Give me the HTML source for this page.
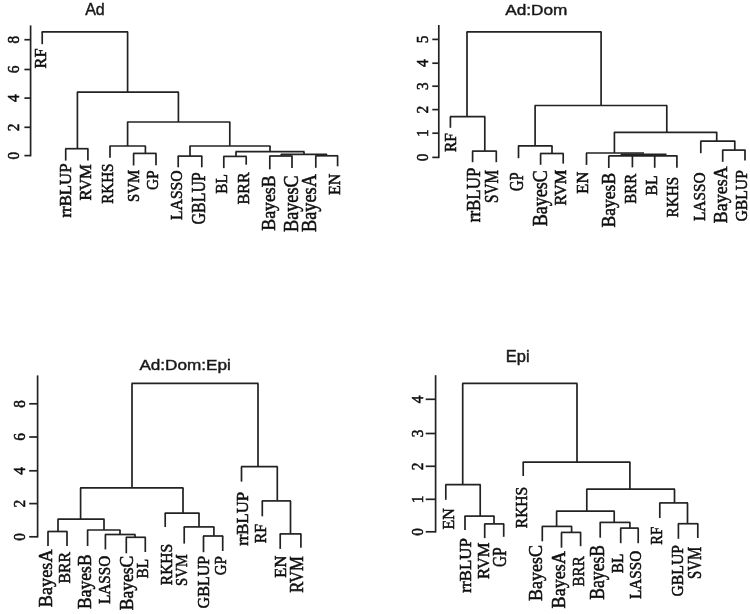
<!DOCTYPE html>
<html><head><meta charset="utf-8"><title>Dendrograms</title>
<style>
html,body{margin:0;padding:0;background:#fff;}
svg{display:block;}
svg text{font-family:"Liberation Serif", "DejaVu Serif", serif;fill:#111;stroke:#111;stroke-width:0.55px;}
svg line{stroke:#222;stroke-linecap:butt;}
svg text.ttl{font-family:"Liberation Sans", "DejaVu Sans", sans-serif;fill:#1a1a1a;stroke:#1a1a1a;stroke-width:0.45px;}
</style></head>
<body>
<svg width="750" height="614" viewBox="0 0 750 614">
<rect width="750" height="614" fill="#ffffff"/>
<defs><filter id="soft" x="0" y="0" width="750" height="614" filterUnits="userSpaceOnUse"><feGaussianBlur stdDeviation="0.55"/></filter></defs>
<g filter="url(#soft)">
<text x="85.2" y="14.7" class="ttl" font-size="16.8" textLength="19.6" lengthAdjust="spacingAndGlyphs" fill="#1a1a1a">Ad</text>
<line x1="30.6" y1="25.4" x2="30.6" y2="156.3" stroke-width="1.7"/>
<line x1="24.4" y1="155.6" x2="30.6" y2="155.6" stroke-width="1.7"/>
<text transform="translate(18.8,155.6) rotate(-90) scale(0.88,1)" text-anchor="middle" font-size="17.5">0</text>
<line x1="24.4" y1="127.3" x2="30.6" y2="127.3" stroke-width="1.7"/>
<text transform="translate(18.8,127.3) rotate(-90) scale(0.88,1)" text-anchor="middle" font-size="17.5">2</text>
<line x1="24.4" y1="98.1" x2="30.6" y2="98.1" stroke-width="1.7"/>
<text transform="translate(18.8,98.1) rotate(-90) scale(0.88,1)" text-anchor="middle" font-size="17.5">4</text>
<line x1="24.4" y1="69.5" x2="30.6" y2="69.5" stroke-width="1.7"/>
<text transform="translate(18.8,69.5) rotate(-90) scale(0.88,1)" text-anchor="middle" font-size="17.5">6</text>
<line x1="24.4" y1="39.7" x2="30.6" y2="39.7" stroke-width="1.7"/>
<text transform="translate(18.8,39.7) rotate(-90) scale(0.88,1)" text-anchor="middle" font-size="17.5">8</text>
<line x1="41.7" y1="31.8" x2="128.1" y2="31.8" stroke-width="1.7"/>
<line x1="42.2" y1="31.8" x2="42.2" y2="44.2" stroke-width="1.7"/>
<line x1="127.6" y1="31.8" x2="127.6" y2="92.2" stroke-width="1.7"/>
<line x1="76.9" y1="92.2" x2="178.9" y2="92.2" stroke-width="1.7"/>
<line x1="77.4" y1="92.2" x2="77.4" y2="148.7" stroke-width="1.7"/>
<line x1="178.4" y1="92.2" x2="178.4" y2="122.0" stroke-width="1.7"/>
<line x1="65.2" y1="148.7" x2="88.4" y2="148.7" stroke-width="1.7"/>
<line x1="65.7" y1="148.7" x2="65.7" y2="160.6" stroke-width="1.7"/>
<line x1="87.9" y1="148.7" x2="87.9" y2="160.6" stroke-width="1.7"/>
<line x1="127.1" y1="122.0" x2="230.3" y2="122.0" stroke-width="1.7"/>
<line x1="127.6" y1="122.0" x2="127.6" y2="146.0" stroke-width="1.7"/>
<line x1="229.8" y1="122.0" x2="229.8" y2="146.0" stroke-width="1.7"/>
<line x1="109.5" y1="146.0" x2="145.9" y2="146.0" stroke-width="1.7"/>
<line x1="110.0" y1="146.0" x2="110.0" y2="157.8" stroke-width="1.7"/>
<line x1="145.4" y1="146.0" x2="145.4" y2="153.4" stroke-width="1.7"/>
<line x1="133.1" y1="153.4" x2="156.5" y2="153.4" stroke-width="1.7"/>
<line x1="133.6" y1="153.4" x2="133.6" y2="165.5" stroke-width="1.7"/>
<line x1="156.0" y1="153.4" x2="156.0" y2="165.3" stroke-width="1.7"/>
<line x1="189.5" y1="146.0" x2="270.5" y2="146.0" stroke-width="1.7"/>
<line x1="190.0" y1="146.0" x2="190.0" y2="156.1" stroke-width="1.7"/>
<line x1="270.0" y1="146.0" x2="270.0" y2="151.7" stroke-width="1.7"/>
<line x1="177.7" y1="156.1" x2="202.3" y2="156.1" stroke-width="1.7"/>
<line x1="178.2" y1="156.1" x2="178.2" y2="167.3" stroke-width="1.7"/>
<line x1="201.8" y1="156.1" x2="201.8" y2="167.3" stroke-width="1.7"/>
<line x1="235.5" y1="151.7" x2="304.5" y2="151.7" stroke-width="1.7"/>
<line x1="236.0" y1="151.7" x2="236.0" y2="156.4" stroke-width="1.7"/>
<line x1="304.0" y1="151.7" x2="304.0" y2="154.3" stroke-width="1.7"/>
<line x1="223.3" y1="156.4" x2="246.7" y2="156.4" stroke-width="1.7"/>
<line x1="223.8" y1="156.4" x2="223.8" y2="168.1" stroke-width="1.7"/>
<line x1="246.2" y1="156.4" x2="246.2" y2="164.7" stroke-width="1.7"/>
<line x1="280.8" y1="154.4" x2="327.0" y2="154.4" stroke-width="1.9"/>
<line x1="281.3" y1="154.4" x2="281.3" y2="156.0" stroke-width="1.9"/>
<line x1="326.5" y1="154.4" x2="326.5" y2="155.5" stroke-width="1.9"/>
<line x1="269.3" y1="156.0" x2="292.5" y2="156.0" stroke-width="1.7"/>
<line x1="269.8" y1="156.0" x2="269.8" y2="169.3" stroke-width="1.7"/>
<line x1="292.0" y1="156.0" x2="292.0" y2="168.0" stroke-width="1.7"/>
<line x1="315.3" y1="155.8" x2="338.1" y2="155.8" stroke-width="1.7"/>
<line x1="315.8" y1="155.8" x2="315.8" y2="167.8" stroke-width="1.7"/>
<line x1="337.6" y1="155.8" x2="337.6" y2="166.3" stroke-width="1.7"/>
<text transform="translate(46.35,48.40) rotate(-90)" text-anchor="end" font-size="17.07" textLength="20.0" lengthAdjust="spacingAndGlyphs">RF</text>
<text transform="translate(71.45,163.50) rotate(-90)" text-anchor="end" font-size="17.52" textLength="54.0" lengthAdjust="spacingAndGlyphs">rrBLUP</text>
<text transform="translate(90.85,164.20) rotate(-90)" text-anchor="end" font-size="16.62" textLength="36.4" lengthAdjust="spacingAndGlyphs">RVM</text>
<text transform="translate(113.45,163.50) rotate(-90)" text-anchor="end" font-size="16.62" textLength="40.2" lengthAdjust="spacingAndGlyphs">RKHS</text>
<text transform="translate(138.55,169.80) rotate(-90)" text-anchor="end" font-size="16.62" textLength="32.1" lengthAdjust="spacingAndGlyphs">SVM</text>
<text transform="translate(158.35,170.40) rotate(-90)" text-anchor="end" font-size="17.52" textLength="19.6" lengthAdjust="spacingAndGlyphs">GP</text>
<text transform="translate(182.15,170.40) rotate(-90)" text-anchor="end" font-size="17.52" textLength="49.6" lengthAdjust="spacingAndGlyphs">LASSO</text>
<text transform="translate(204.75,172.30) rotate(-90)" text-anchor="end" font-size="18.58" textLength="52.1" lengthAdjust="spacingAndGlyphs">GBLUP</text>
<text transform="translate(226.65,174.20) rotate(-90)" text-anchor="end" font-size="17.52" textLength="19.5" lengthAdjust="spacingAndGlyphs">BL</text>
<text transform="translate(249.35,172.30) rotate(-90)" text-anchor="end" font-size="17.22" textLength="32.1" lengthAdjust="spacingAndGlyphs">BRR</text>
<text transform="translate(274.65,175.40) rotate(-90)" text-anchor="end" font-size="19.49" textLength="55.3" lengthAdjust="spacingAndGlyphs">BayesB</text>
<text transform="translate(297.85,175.40) rotate(-90)" text-anchor="end" font-size="20.39" textLength="56.5" lengthAdjust="spacingAndGlyphs">BayesC</text>
<text transform="translate(316.05,174.20) rotate(-90)" text-anchor="end" font-size="20.39" textLength="57.7" lengthAdjust="spacingAndGlyphs">BayesA</text>
<text transform="translate(340.35,173.70) rotate(-90)" text-anchor="end" font-size="17.67" textLength="21.4" lengthAdjust="spacingAndGlyphs">EN</text>
<text x="505.2" y="14.9" class="ttl" font-size="15.5" textLength="62.2" lengthAdjust="spacingAndGlyphs" fill="#1a1a1a">Ad:Dom</text>
<line x1="438.8" y1="25.0" x2="438.8" y2="158.1" stroke-width="1.7"/>
<line x1="432.3" y1="157.4" x2="438.8" y2="157.4" stroke-width="1.7"/>
<text transform="translate(428.2,157.4) rotate(-90) scale(0.88,1)" text-anchor="middle" font-size="17.5">0</text>
<line x1="432.3" y1="133.2" x2="438.8" y2="133.2" stroke-width="1.7"/>
<text transform="translate(428.2,133.2) rotate(-90) scale(0.88,1)" text-anchor="middle" font-size="17.5">1</text>
<line x1="432.3" y1="109.6" x2="438.8" y2="109.6" stroke-width="1.7"/>
<text transform="translate(428.2,109.6) rotate(-90) scale(0.88,1)" text-anchor="middle" font-size="17.5">2</text>
<line x1="432.3" y1="86.2" x2="438.8" y2="86.2" stroke-width="1.7"/>
<text transform="translate(428.2,86.2) rotate(-90) scale(0.88,1)" text-anchor="middle" font-size="17.5">3</text>
<line x1="432.3" y1="63.2" x2="438.8" y2="63.2" stroke-width="1.7"/>
<text transform="translate(428.2,63.2) rotate(-90) scale(0.88,1)" text-anchor="middle" font-size="17.5">4</text>
<line x1="432.3" y1="39.4" x2="438.8" y2="39.4" stroke-width="1.7"/>
<text transform="translate(428.2,39.4) rotate(-90) scale(0.88,1)" text-anchor="middle" font-size="17.5">5</text>
<line x1="466.5" y1="31.8" x2="601.6" y2="31.8" stroke-width="1.7"/>
<line x1="467.0" y1="31.8" x2="467.0" y2="116.7" stroke-width="1.7"/>
<line x1="601.1" y1="31.8" x2="601.1" y2="105.5" stroke-width="1.7"/>
<line x1="449.9" y1="116.7" x2="485.3" y2="116.7" stroke-width="1.7"/>
<line x1="450.4" y1="116.7" x2="450.4" y2="127.8" stroke-width="1.7"/>
<line x1="484.8" y1="116.7" x2="484.8" y2="151.1" stroke-width="1.7"/>
<line x1="472.1" y1="151.1" x2="496.8" y2="151.1" stroke-width="1.7"/>
<line x1="472.6" y1="151.1" x2="472.6" y2="162.2" stroke-width="1.7"/>
<line x1="496.3" y1="151.1" x2="496.3" y2="162.2" stroke-width="1.7"/>
<line x1="534.6" y1="105.5" x2="667.3" y2="105.5" stroke-width="1.7"/>
<line x1="535.1" y1="105.5" x2="535.1" y2="145.9" stroke-width="1.7"/>
<line x1="666.8" y1="105.5" x2="666.8" y2="132.3" stroke-width="1.7"/>
<line x1="518.0" y1="145.9" x2="552.5" y2="145.9" stroke-width="1.7"/>
<line x1="518.5" y1="145.9" x2="518.5" y2="158.2" stroke-width="1.7"/>
<line x1="552.0" y1="145.9" x2="552.0" y2="153.5" stroke-width="1.7"/>
<line x1="540.1" y1="153.5" x2="563.7" y2="153.5" stroke-width="1.7"/>
<line x1="540.6" y1="153.5" x2="540.6" y2="164.8" stroke-width="1.7"/>
<line x1="563.2" y1="153.5" x2="563.2" y2="163.6" stroke-width="1.7"/>
<line x1="613.9" y1="132.3" x2="717.2" y2="132.3" stroke-width="1.7"/>
<line x1="614.4" y1="132.3" x2="614.4" y2="153.0" stroke-width="1.7"/>
<line x1="716.7" y1="132.3" x2="716.7" y2="141.2" stroke-width="1.7"/>
<line x1="586.0" y1="153.0" x2="644.0" y2="153.0" stroke-width="1.7"/>
<line x1="586.5" y1="153.0" x2="586.5" y2="164.9" stroke-width="1.7"/>
<line x1="620.6" y1="154.4" x2="666.5" y2="154.4" stroke-width="1.9"/>
<line x1="608.6" y1="155.8" x2="677.4" y2="155.8" stroke-width="1.7"/>
<line x1="608.8" y1="155.8" x2="608.8" y2="168.0" stroke-width="1.7"/>
<line x1="632.4" y1="155.8" x2="632.4" y2="167.4" stroke-width="1.7"/>
<line x1="654.7" y1="155.8" x2="654.7" y2="167.8" stroke-width="1.7"/>
<line x1="676.9" y1="155.8" x2="676.9" y2="167.8" stroke-width="1.7"/>
<line x1="700.3" y1="141.2" x2="735.3" y2="141.2" stroke-width="1.7"/>
<line x1="700.8" y1="141.2" x2="700.8" y2="153.2" stroke-width="1.7"/>
<line x1="734.8" y1="141.2" x2="734.8" y2="150.1" stroke-width="1.7"/>
<line x1="722.2" y1="150.1" x2="745.5" y2="150.1" stroke-width="1.7"/>
<line x1="722.7" y1="150.1" x2="722.7" y2="161.8" stroke-width="1.7"/>
<line x1="745.0" y1="150.1" x2="745.0" y2="160.4" stroke-width="1.7"/>
<text transform="translate(455.65,133.10) rotate(-90)" text-anchor="end" font-size="17.67" textLength="18.9" lengthAdjust="spacingAndGlyphs">RF</text>
<text transform="translate(479.85,167.70) rotate(-90)" text-anchor="end" font-size="18.43" textLength="54.5" lengthAdjust="spacingAndGlyphs">rrBLUP</text>
<text transform="translate(497.95,170.10) rotate(-90)" text-anchor="end" font-size="19.18" textLength="32.9" lengthAdjust="spacingAndGlyphs">SVM</text>
<text transform="translate(522.75,172.50) rotate(-90)" text-anchor="end" font-size="17.98" textLength="18.5" lengthAdjust="spacingAndGlyphs">GP</text>
<text transform="translate(546.75,170.10) rotate(-90)" text-anchor="end" font-size="20.39" textLength="56.1" lengthAdjust="spacingAndGlyphs">BayesC</text>
<text transform="translate(565.85,169.80) rotate(-90)" text-anchor="end" font-size="16.62" textLength="35.8" lengthAdjust="spacingAndGlyphs">RVM</text>
<text transform="translate(587.75,171.70) rotate(-90)" text-anchor="end" font-size="16.62" textLength="22.0" lengthAdjust="spacingAndGlyphs">EN</text>
<text transform="translate(615.35,172.90) rotate(-90)" text-anchor="end" font-size="19.49" textLength="54.6" lengthAdjust="spacingAndGlyphs">BayesB</text>
<text transform="translate(636.05,173.60) rotate(-90)" text-anchor="end" font-size="16.62" textLength="30.1" lengthAdjust="spacingAndGlyphs">BRR</text>
<text transform="translate(657.05,175.40) rotate(-90)" text-anchor="end" font-size="17.52" textLength="20.2" lengthAdjust="spacingAndGlyphs">BL</text>
<text transform="translate(677.75,176.70) rotate(-90)" text-anchor="end" font-size="16.62" textLength="40.8" lengthAdjust="spacingAndGlyphs">RKHS</text>
<text transform="translate(704.95,172.50) rotate(-90)" text-anchor="end" font-size="16.62" textLength="48.5" lengthAdjust="spacingAndGlyphs">LASSO</text>
<text transform="translate(727.35,166.30) rotate(-90)" text-anchor="end" font-size="19.64" textLength="56.9" lengthAdjust="spacingAndGlyphs">BayesA</text>
<text transform="translate(747.15,170.10) rotate(-90)" text-anchor="end" font-size="16.77" textLength="51.5" lengthAdjust="spacingAndGlyphs">GBLUP</text>
<text x="139.4" y="369.8" class="ttl" font-size="15.5" textLength="91.4" lengthAdjust="spacingAndGlyphs" fill="#1a1a1a">Ad:Dom:Epi</text>
<line x1="37.6" y1="375.4" x2="37.6" y2="537.5" stroke-width="1.7"/>
<line x1="29.2" y1="536.8" x2="37.6" y2="536.8" stroke-width="1.7"/>
<text transform="translate(24.8,536.8) rotate(-90) scale(0.88,1)" text-anchor="middle" font-size="17.5">0</text>
<line x1="29.2" y1="503.6" x2="37.6" y2="503.6" stroke-width="1.7"/>
<text transform="translate(24.8,503.6) rotate(-90) scale(0.88,1)" text-anchor="middle" font-size="17.5">2</text>
<line x1="29.2" y1="470.8" x2="37.6" y2="470.8" stroke-width="1.7"/>
<text transform="translate(24.8,470.8) rotate(-90) scale(0.88,1)" text-anchor="middle" font-size="17.5">4</text>
<line x1="29.2" y1="437.0" x2="37.6" y2="437.0" stroke-width="1.7"/>
<text transform="translate(24.8,437.0) rotate(-90) scale(0.88,1)" text-anchor="middle" font-size="17.5">6</text>
<line x1="29.2" y1="403.8" x2="37.6" y2="403.8" stroke-width="1.7"/>
<text transform="translate(24.8,403.8) rotate(-90) scale(0.88,1)" text-anchor="middle" font-size="17.5">8</text>
<line x1="131.5" y1="383.4" x2="258.5" y2="383.4" stroke-width="1.7"/>
<line x1="132.0" y1="383.4" x2="132.0" y2="487.9" stroke-width="1.7"/>
<line x1="258.0" y1="383.4" x2="258.0" y2="466.7" stroke-width="1.7"/>
<line x1="80.1" y1="487.9" x2="183.5" y2="487.9" stroke-width="1.7"/>
<line x1="80.6" y1="487.9" x2="80.6" y2="519.2" stroke-width="1.7"/>
<line x1="183.0" y1="487.9" x2="183.0" y2="513.1" stroke-width="1.7"/>
<line x1="57.5" y1="519.2" x2="104.5" y2="519.2" stroke-width="1.7"/>
<line x1="58.0" y1="519.2" x2="58.0" y2="531.5" stroke-width="1.7"/>
<line x1="104.0" y1="519.2" x2="104.0" y2="530.0" stroke-width="1.7"/>
<line x1="47.5" y1="531.5" x2="67.5" y2="531.5" stroke-width="1.7"/>
<line x1="48.0" y1="531.5" x2="48.0" y2="546.0" stroke-width="1.7"/>
<line x1="67.0" y1="531.5" x2="67.0" y2="546.0" stroke-width="1.7"/>
<line x1="87.1" y1="530.0" x2="120.5" y2="530.0" stroke-width="1.7"/>
<line x1="87.6" y1="530.0" x2="87.6" y2="546.0" stroke-width="1.7"/>
<line x1="120.0" y1="530.0" x2="120.0" y2="534.5" stroke-width="1.7"/>
<line x1="104.9" y1="534.5" x2="135.5" y2="534.5" stroke-width="1.7"/>
<line x1="105.4" y1="534.5" x2="105.4" y2="549.4" stroke-width="1.7"/>
<line x1="135.0" y1="534.5" x2="135.0" y2="537.3" stroke-width="1.7"/>
<line x1="125.8" y1="537.3" x2="145.8" y2="537.3" stroke-width="1.7"/>
<line x1="126.3" y1="537.3" x2="126.3" y2="553.3" stroke-width="1.7"/>
<line x1="145.3" y1="537.3" x2="145.3" y2="552.0" stroke-width="1.7"/>
<line x1="164.7" y1="513.1" x2="199.5" y2="513.1" stroke-width="1.7"/>
<line x1="165.2" y1="513.1" x2="165.2" y2="527.0" stroke-width="1.7"/>
<line x1="199.0" y1="513.1" x2="199.0" y2="526.9" stroke-width="1.7"/>
<line x1="183.7" y1="526.9" x2="214.4" y2="526.9" stroke-width="1.7"/>
<line x1="184.2" y1="526.9" x2="184.2" y2="543.6" stroke-width="1.7"/>
<line x1="213.9" y1="526.9" x2="213.9" y2="536.0" stroke-width="1.7"/>
<line x1="203.0" y1="536.0" x2="223.2" y2="536.0" stroke-width="1.7"/>
<line x1="203.5" y1="536.0" x2="203.5" y2="552.2" stroke-width="1.7"/>
<line x1="222.7" y1="536.0" x2="222.7" y2="551.0" stroke-width="1.7"/>
<line x1="241.0" y1="466.7" x2="277.8" y2="466.7" stroke-width="1.7"/>
<line x1="241.5" y1="466.7" x2="241.5" y2="481.6" stroke-width="1.7"/>
<line x1="277.3" y1="466.7" x2="277.3" y2="500.9" stroke-width="1.7"/>
<line x1="261.8" y1="500.9" x2="291.0" y2="500.9" stroke-width="1.7"/>
<line x1="262.3" y1="500.9" x2="262.3" y2="516.3" stroke-width="1.7"/>
<line x1="290.5" y1="500.9" x2="290.5" y2="533.9" stroke-width="1.7"/>
<line x1="279.7" y1="533.9" x2="301.4" y2="533.9" stroke-width="1.7"/>
<line x1="280.2" y1="533.9" x2="280.2" y2="548.9" stroke-width="1.7"/>
<line x1="300.9" y1="533.9" x2="300.9" y2="547.7" stroke-width="1.7"/>
<text transform="translate(52.05,549.40) rotate(-90)" text-anchor="end" font-size="19.34" textLength="57.8" lengthAdjust="spacingAndGlyphs">BayesA</text>
<text transform="translate(69.65,551.90) rotate(-90)" text-anchor="end" font-size="16.62" textLength="31.5" lengthAdjust="spacingAndGlyphs">BRR</text>
<text transform="translate(90.95,554.40) rotate(-90)" text-anchor="end" font-size="19.49" textLength="54.6" lengthAdjust="spacingAndGlyphs">BayesB</text>
<text transform="translate(110.35,555.70) rotate(-90)" text-anchor="end" font-size="16.62" textLength="48.3" lengthAdjust="spacingAndGlyphs">LASSO</text>
<text transform="translate(132.85,555.70) rotate(-90)" text-anchor="end" font-size="19.49" textLength="54.6" lengthAdjust="spacingAndGlyphs">BayesC</text>
<text transform="translate(147.85,558.80) rotate(-90)" text-anchor="end" font-size="17.52" textLength="19.6" lengthAdjust="spacingAndGlyphs">BL</text>
<text transform="translate(171.75,543.80) rotate(-90)" text-anchor="end" font-size="16.77" textLength="41.4" lengthAdjust="spacingAndGlyphs">RKHS</text>
<text transform="translate(186.75,554.40) rotate(-90)" text-anchor="end" font-size="17.52" textLength="31.5" lengthAdjust="spacingAndGlyphs">SVM</text>
<text transform="translate(208.95,555.70) rotate(-90)" text-anchor="end" font-size="17.52" textLength="52.7" lengthAdjust="spacingAndGlyphs">GBLUP</text>
<text transform="translate(225.85,556.30) rotate(-90)" text-anchor="end" font-size="16.62" textLength="18.9" lengthAdjust="spacingAndGlyphs">GP</text>
<text transform="translate(247.75,491.80) rotate(-90)" text-anchor="end" font-size="17.52" textLength="54.0" lengthAdjust="spacingAndGlyphs">rrBLUP</text>
<text transform="translate(265.95,523.80) rotate(-90)" text-anchor="end" font-size="17.67" textLength="19.5" lengthAdjust="spacingAndGlyphs">RF</text>
<text transform="translate(286.45,555.70) rotate(-90)" text-anchor="end" font-size="16.92" textLength="22.0" lengthAdjust="spacingAndGlyphs">EN</text>
<text transform="translate(303.45,556.30) rotate(-90)" text-anchor="end" font-size="17.98" textLength="36.5" lengthAdjust="spacingAndGlyphs">RVM</text>
<text x="505.8" y="362.4" class="ttl" font-size="16.5" textLength="23.8" lengthAdjust="spacingAndGlyphs" fill="#1a1a1a">Epi</text>
<line x1="435.6" y1="375.2" x2="435.6" y2="532.5" stroke-width="1.7"/>
<line x1="425.7" y1="531.8" x2="435.6" y2="531.8" stroke-width="1.7"/>
<text transform="translate(422.6,531.8) rotate(-90) scale(0.88,1)" text-anchor="middle" font-size="17.5">0</text>
<line x1="425.7" y1="499.3" x2="435.6" y2="499.3" stroke-width="1.7"/>
<text transform="translate(422.6,499.3) rotate(-90) scale(0.88,1)" text-anchor="middle" font-size="17.5">1</text>
<line x1="425.7" y1="466.3" x2="435.6" y2="466.3" stroke-width="1.7"/>
<text transform="translate(422.6,466.3) rotate(-90) scale(0.88,1)" text-anchor="middle" font-size="17.5">2</text>
<line x1="425.7" y1="433.5" x2="435.6" y2="433.5" stroke-width="1.7"/>
<text transform="translate(422.6,433.5) rotate(-90) scale(0.88,1)" text-anchor="middle" font-size="17.5">3</text>
<line x1="425.7" y1="399.3" x2="435.6" y2="399.3" stroke-width="1.7"/>
<text transform="translate(422.6,399.3) rotate(-90) scale(0.88,1)" text-anchor="middle" font-size="17.5">4</text>
<line x1="462.2" y1="383.4" x2="577.5" y2="383.4" stroke-width="1.7"/>
<line x1="462.7" y1="383.4" x2="462.7" y2="484.6" stroke-width="1.7"/>
<line x1="577.0" y1="383.4" x2="577.0" y2="462.2" stroke-width="1.7"/>
<line x1="445.3" y1="484.6" x2="480.7" y2="484.6" stroke-width="1.7"/>
<line x1="445.8" y1="484.6" x2="445.8" y2="499.8" stroke-width="1.7"/>
<line x1="480.2" y1="484.6" x2="480.2" y2="516.1" stroke-width="1.7"/>
<line x1="464.5" y1="516.1" x2="494.5" y2="516.1" stroke-width="1.7"/>
<line x1="465.0" y1="516.1" x2="465.0" y2="530.0" stroke-width="1.7"/>
<line x1="494.0" y1="516.1" x2="494.0" y2="523.9" stroke-width="1.7"/>
<line x1="484.2" y1="523.9" x2="504.2" y2="523.9" stroke-width="1.7"/>
<line x1="484.7" y1="523.9" x2="484.7" y2="538.1" stroke-width="1.7"/>
<line x1="503.7" y1="523.9" x2="503.7" y2="536.8" stroke-width="1.7"/>
<line x1="522.7" y1="462.2" x2="630.4" y2="462.2" stroke-width="1.7"/>
<line x1="523.2" y1="462.2" x2="523.2" y2="476.0" stroke-width="1.7"/>
<line x1="629.9" y1="462.2" x2="629.9" y2="489.1" stroke-width="1.7"/>
<line x1="586.3" y1="489.1" x2="675.0" y2="489.1" stroke-width="1.7"/>
<line x1="586.8" y1="489.1" x2="586.8" y2="511.2" stroke-width="1.7"/>
<line x1="674.5" y1="489.1" x2="674.5" y2="503.1" stroke-width="1.7"/>
<line x1="556.1" y1="511.2" x2="614.7" y2="511.2" stroke-width="1.7"/>
<line x1="556.6" y1="511.2" x2="556.6" y2="526.4" stroke-width="1.7"/>
<line x1="614.2" y1="511.2" x2="614.2" y2="522.4" stroke-width="1.7"/>
<line x1="541.8" y1="526.4" x2="572.1" y2="526.4" stroke-width="1.7"/>
<line x1="542.3" y1="526.4" x2="542.3" y2="541.3" stroke-width="1.7"/>
<line x1="571.6" y1="526.4" x2="571.6" y2="532.4" stroke-width="1.7"/>
<line x1="561.0" y1="532.4" x2="581.1" y2="532.4" stroke-width="1.7"/>
<line x1="561.5" y1="532.4" x2="561.5" y2="547.7" stroke-width="1.7"/>
<line x1="580.6" y1="532.4" x2="580.6" y2="546.2" stroke-width="1.7"/>
<line x1="599.7" y1="522.4" x2="630.4" y2="522.4" stroke-width="1.7"/>
<line x1="600.2" y1="522.4" x2="600.2" y2="537.7" stroke-width="1.7"/>
<line x1="629.9" y1="522.4" x2="629.9" y2="528.1" stroke-width="1.7"/>
<line x1="620.2" y1="528.1" x2="638.7" y2="528.1" stroke-width="1.7"/>
<line x1="620.7" y1="528.1" x2="620.7" y2="543.2" stroke-width="1.7"/>
<line x1="638.2" y1="528.1" x2="638.2" y2="543.2" stroke-width="1.7"/>
<line x1="659.3" y1="502.9" x2="688.0" y2="502.9" stroke-width="1.7"/>
<line x1="659.8" y1="502.9" x2="659.8" y2="518.0" stroke-width="1.7"/>
<line x1="687.5" y1="502.9" x2="687.5" y2="523.7" stroke-width="1.7"/>
<line x1="677.9" y1="523.7" x2="698.3" y2="523.7" stroke-width="1.7"/>
<line x1="678.4" y1="523.7" x2="678.4" y2="538.8" stroke-width="1.7"/>
<line x1="697.8" y1="523.7" x2="697.8" y2="538.0" stroke-width="1.7"/>
<text transform="translate(453.65,508.20) rotate(-90)" text-anchor="end" font-size="16.92" textLength="21.2" lengthAdjust="spacingAndGlyphs">EN</text>
<text transform="translate(470.75,538.00) rotate(-90)" text-anchor="end" font-size="17.52" textLength="54.7" lengthAdjust="spacingAndGlyphs">rrBLUP</text>
<text transform="translate(488.95,542.40) rotate(-90)" text-anchor="end" font-size="17.67" textLength="36.5" lengthAdjust="spacingAndGlyphs">RVM</text>
<text transform="translate(506.25,547.40) rotate(-90)" text-anchor="end" font-size="18.13" textLength="19.6" lengthAdjust="spacingAndGlyphs">GP</text>
<text transform="translate(527.15,486.80) rotate(-90)" text-anchor="end" font-size="17.67" textLength="41.4" lengthAdjust="spacingAndGlyphs">RKHS</text>
<text transform="translate(542.15,545.00) rotate(-90)" text-anchor="end" font-size="19.49" textLength="55.9" lengthAdjust="spacingAndGlyphs">BayesC</text>
<text transform="translate(564.65,551.30) rotate(-90)" text-anchor="end" font-size="19.79" textLength="57.1" lengthAdjust="spacingAndGlyphs">BayesA</text>
<text transform="translate(584.05,556.30) rotate(-90)" text-anchor="end" font-size="16.62" textLength="30.2" lengthAdjust="spacingAndGlyphs">BRR</text>
<text transform="translate(603.55,545.00) rotate(-90)" text-anchor="end" font-size="20.54" textLength="54.7" lengthAdjust="spacingAndGlyphs">BayesB</text>
<text transform="translate(622.75,553.70) rotate(-90)" text-anchor="end" font-size="17.52" textLength="19.6" lengthAdjust="spacingAndGlyphs">BL</text>
<text transform="translate(640.55,550.70) rotate(-90)" text-anchor="end" font-size="17.07" textLength="48.3" lengthAdjust="spacingAndGlyphs">LASSO</text>
<text transform="translate(661.55,526.80) rotate(-90)" text-anchor="end" font-size="16.62" textLength="18.0" lengthAdjust="spacingAndGlyphs">RF</text>
<text transform="translate(682.55,545.00) rotate(-90)" text-anchor="end" font-size="16.62" textLength="51.5" lengthAdjust="spacingAndGlyphs">GBLUP</text>
<text transform="translate(701.05,546.90) rotate(-90)" text-anchor="end" font-size="18.58" textLength="32.1" lengthAdjust="spacingAndGlyphs">SVM</text>
</g>
</svg>
</body></html>
